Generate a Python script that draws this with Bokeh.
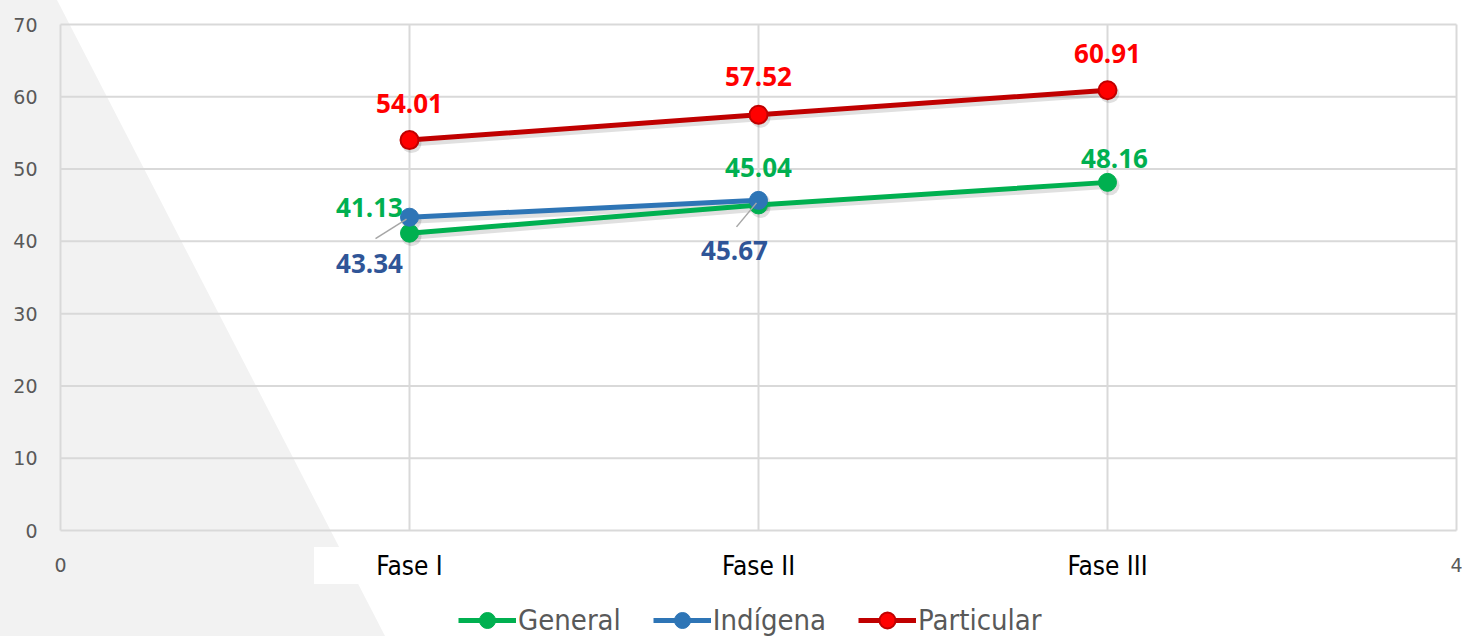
from urllib.parse import quote
from bokeh.plotting import figure
from bokeh.models import (FixedTicker, Range1d, Legend, LegendItem, LinearAxis,
                          ColumnDataSource, InlineStyleSheet)
from bokeh.core.properties import value
from bokeh.embed import file_html
from bokeh.resources import INLINE

# ---------------- data ----------------
categories = ["Fase I", "Fase II", "Fase III"]
x_pos = [1, 2, 3]
general = [41.13, 45.04, 48.16]
indigena_x = [1, 2]
indigena = [43.34, 45.67]
particular = [54.01, 57.52, 60.91]
y_ticks = [0, 10, 20, 30, 40, 50, 60, 70]
x_grid_ticks = [0, 1, 2, 3, 4]
x_end_ticks = [0, 4]

# label offsets (pixels, style only)
general_dx = [-40, 0, 7]
general_dy = [-26, -37, -24]
indigena_dx = [-40, -24]
indigena_dy = [46, 50]
particular_dx = [0, 0, 0]
particular_dy = [-37, -38, -37]

# ---------------- geometry ----------------
W, H = 1462, 636
X0_PX, X4_PX = 60, 1456            # pixel columns of x = 0 and x = 4
Y70_PX, Y0_PX = 24, 530            # pixel rows of y = 70 and y = 0
FL, FT = 50, 20
px_x = 4.0 / (X4_PX - X0_PX)
px_y = 70.0 / (Y0_PX - Y70_PX)
x_lo = -(X0_PX - FL) * px_x
x_hi = 4 + (W - X4_PX) * px_x
y_lo = -(H - Y0_PX) * px_y
y_hi = 70 + (Y70_PX - FT) * px_y

NARROW = "DejaVu Sans Condensed, Roboto"

# light gray diagonal background band (page decoration)
bg_svg = ("<svg xmlns='http://www.w3.org/2000/svg' width='%d' height='%d'>"
          "<polygon points='0,0 57,0 385,636 0,636' fill='#f2f2f2'/>"
          "<rect x='314' y='547' width='170' height='37' fill='white'/></svg>") % (W, H)
css = (":host { background-color: white; background-image: url(\"data:image/svg+xml,%s\");"
       " background-repeat: no-repeat; }") % quote(bg_svg)

p = figure(width=W, height=H, x_range=Range1d(x_lo, x_hi), y_range=Range1d(y_lo, y_hi),
           output_backend="svg", toolbar_location=None, x_axis_location=None,
           min_border_left=FL, min_border_right=0, min_border_top=FT,
           min_border_bottom=0, background_fill_color=None,
           border_fill_color=None, outline_line_color=None)
p.stylesheets = [InlineStyleSheet(css=css)]

# y axis
p.yaxis.ticker = FixedTicker(ticks=y_ticks)
p.yaxis.axis_line_color = None
p.yaxis.major_tick_line_color = None
p.yaxis.minor_tick_line_color = None
p.yaxis.major_label_text_font = "DejaVu Sans"
p.yaxis.major_label_text_font_size = "19px"
p.yaxis.major_label_text_color = "#595959"
p.yaxis.major_label_standoff = 7

# x axes fixed at y = 0: numeric ends (gray) and phases (black, condensed)
def x_axis(ticks, font, size, color, standoff):
    ax = LinearAxis(ticker=FixedTicker(ticks=ticks), fixed_location=y_ticks[0])
    ax.axis_line_color = None
    ax.major_tick_line_color = None
    ax.minor_tick_line_color = None
    ax.major_label_text_font = font
    ax.major_label_text_font_size = size
    ax.major_label_text_color = color
    ax.major_label_standoff = standoff
    p.add_layout(ax, "below")
    return ax

x_axis(x_end_ticks, "DejaVu Sans", "19px", "#595959", 21)
ax_cat = x_axis(x_pos, NARROW, "26px", "#000000", 14)
ax_cat.major_label_overrides = {x: c for x, c in zip(x_pos, categories)}

# grid lines, limited to the 0..4 x 0..70 plot area
p.xgrid.visible = False
p.ygrid.visible = False
GRID = "#d9d9d9"
p.segment(x0=x_grid_ticks, y0=[y_ticks[0]] * len(x_grid_ticks),
          x1=x_grid_ticks, y1=[y_ticks[-1]] * len(x_grid_ticks),
          line_color=GRID, line_width=2)
p.segment(x0=[x_grid_ticks[0]] * len(y_ticks), y0=y_ticks,
          x1=[x_grid_ticks[-1]] * len(y_ticks), y1=y_ticks,
          line_color=GRID, line_width=2)

# shadows
def shadow(xs, ys):
    sx = [x + 2 * px_x for x in xs]
    sy = [y - 3 * px_y for y in ys]
    p.line(sx, sy, line_width=7, line_color="black", line_alpha=0.12)
    p.scatter(sx, sy, size=20, fill_color="black", fill_alpha=0.12, line_color=None)

shadow(x_pos, general)
shadow(indigena_x, indigena)
shadow(x_pos, particular)

# series
GREEN, BLUE, RED_L, RED_F = "#00b050", "#2e75b6", "#c00000", "#ff0000"
gl = p.line(x_pos, general, line_width=5, line_color=GREEN)
gs = p.scatter(x_pos, general, size=18, fill_color=GREEN, line_color=GREEN)
il = p.line(indigena_x, indigena, line_width=5, line_color=BLUE)
is_ = p.scatter(indigena_x, indigena, size=18, fill_color=BLUE, line_color=BLUE)
pl = p.line(x_pos, particular, line_width=5, line_color=RED_L)
ps = p.scatter(x_pos, particular, size=18, fill_color=RED_F, line_color=RED_L, line_width=2)

# leader lines for Indígena labels
lead_start = [(-34, 21.5), (-22, 26.5)]
lead_end = [(-3, 2), (-2, 2.5)]
p.segment(x0=[x + s[0] * px_x for x, s in zip(indigena_x, lead_start)],
          y0=[y - s[1] * px_y for y, s in zip(indigena, lead_start)],
          x1=[x + e[0] * px_x for x, e in zip(indigena_x, lead_end)],
          y1=[y - e[1] * px_y for y, e in zip(indigena, lead_end)],
          line_color="#a6a6a6", line_width=1.5)

# data labels
def labels(xs, ys, dx, dy, color):
    src = ColumnDataSource(dict(x=xs, y=ys, t=[f"{v:.2f}" for v in ys], dx=dx, dy=dy))
    p.text(x="x", y="y", text="t", x_offset="dx", y_offset="dy", source=src,
           text_align="center", text_baseline="middle",
           text_font=value("Open Sans"), text_font_style="bold",
           text_font_size="26px", text_color=color)

labels(x_pos, general, general_dx, general_dy, GREEN)
labels(indigena_x, indigena, indigena_dx, indigena_dy, "#2f5597")
labels(x_pos, particular, particular_dx, particular_dy, RED_F)

# legend
legend = Legend(items=[LegendItem(label="General", renderers=[gl, gs]),
                       LegendItem(label="Indígena", renderers=[il, is_]),
                       LegendItem(label="Particular", renderers=[pl, ps])],
                orientation="horizontal", location=(408, -4),
                label_text_font=NARROW, label_text_font_size="29px",
                label_text_color="#595959", glyph_width=58, glyph_height=40,
                spacing=32, label_standoff=2, border_line_color=None,
                background_fill_alpha=0, padding=0, margin=0)
p.add_layout(legend)

open("out.html", "w").write(file_html(p, INLINE))
